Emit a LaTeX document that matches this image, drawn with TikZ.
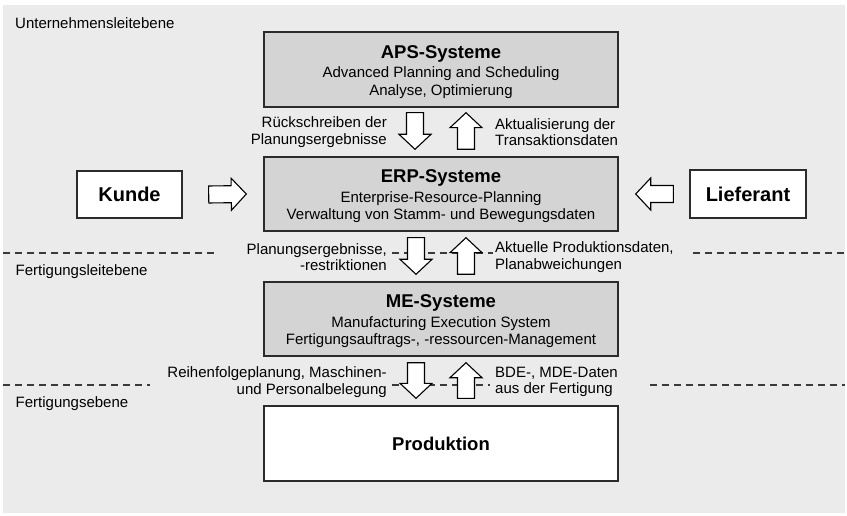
\documentclass[tikz,border=0pt]{standalone}
\usepackage{fontspec}
\setmainfont{Liberation Sans}
\usetikzlibrary{calc}

\definecolor{bgcol}{HTML}{EBEBEB}
\definecolor{syscol}{HTML}{D4D4D4}
\definecolor{linecol}{HTML}{2B2B2B}
\definecolor{dashcol}{HTML}{3A3A3A}

% bold system title; the strut lowers the text block a little inside its box
\newcommand\systitle[1]{{\fontsize{18.5}{21}\selectfont\bfseries\rule{0pt}{18pt}#1}}

% hollow block arrow from coordinate #1 (tail) to coordinate #2 (tip)
\newcommand\blockarrow[2]{%
  \coordinate (ba-h) at ($(#2)!15pt!(#1)$);
  \draw[blockarrowstyle]
    ($(#1)!8.5pt!90:(#2)$) -- ($(ba-h)!8.5pt!-90:(#1)$) -- ($(ba-h)!16pt!-90:(#1)$)
    -- (#2) -- ($(ba-h)!16pt!90:(#1)$) -- ($(ba-h)!8.5pt!90:(#1)$)
    -- ($(#1)!8.5pt!-90:(#2)$) -- cycle;
}

\tikzset{
  sysbox/.style={draw=linecol, fill=syscol, line width=1.4pt, minimum width=354pt,
    minimum height=75pt, inner sep=0pt, align=center, font=\fontsize{15}{17.5}\selectfont},
  extbox/.style={draw=linecol, fill=white, line width=1.4pt, inner sep=0pt,
    font=\fontsize{20}{24}\selectfont\bfseries},
  lbl/.style={inner sep=0pt, font=\fontsize{15}{16.5}\selectfont},
  lvl/.style={inner sep=0pt, anchor=base west, font=\fontsize{15}{17}\selectfont},
  levelline/.style={draw=dashcol, line width=1.1pt, dash pattern=on 7pt off 5pt},
  blockarrowstyle/.style={draw=black, fill=white, line width=1.1pt, line join=miter},
}

\begin{document}
\begin{tikzpicture}[x=1pt, y=1pt]
  \useasboundingbox (0,0) rectangle (847,515);
  \fill[bgcol] (3,2) rectangle (845,510);

  % level separators
  \draw[levelline] (3,262) -- (217,262);
  \draw[levelline] (392,262) -- (493,262);
  \draw[levelline] (693,262) -- (845,262);
  \draw[levelline] (3,130) -- (150,130);
  \draw[levelline] (392,130) -- (490,130);
  \draw[levelline] (650,130) -- (845,130);

  % level names
  \node[lvl] (lvl1) at (15,486.6) {Unternehmensleitebene};
  \node[lvl] (lvl2) at (15.5,239.6) {Fertigungsleitebene};
  \node[lvl] (lvl3) at (15.5,107.6) {Fertigungsebene};

  % systems
  \node[sysbox] (aps) at (441,445.5)
    {\systitle{APS-Systeme}\\[2pt] Advanced Planning and Scheduling\\ Analyse, Optimierung};
  \node[sysbox, minimum height=74pt] (erp) at (441,321)
    {\systitle{ERP-Systeme}\\[2pt] Enterprise-Resource-Planning\\ Verwaltung von Stamm- und Bewegungsdaten};
  \node[sysbox, minimum height=74pt] (me) at (441,196)
    {\systitle{ME-Systeme}\\[2pt] Manufacturing Execution System\\ Fertigungsauftrags-, -ressourcen-Management};
  \node[extbox, minimum width=354pt, minimum height=75pt, font=\fontsize{18.5}{21}\selectfont\bfseries]
    (prod) at (441,71.5) {Produktion};

  \node[extbox, minimum width=105pt, minimum height=47pt] (kunde) at (129.5,320.5) {Kunde};
  \node[extbox, minimum width=116pt, minimum height=48pt] (lief) at (748,321) {Lieferant};

  % arrow end points
  \coordinate (a1s) at ($(aps.south)+(-26pt,-5pt)$);
  \coordinate (a1e) at ($(erp.north)+(-26pt,7pt)$);
  \coordinate (a2s) at ($(erp.north)+(25pt,7pt)$);
  \coordinate (a2e) at ($(aps.south)+(25pt,-5pt)$);
  \coordinate (a3s) at ($(erp.south)+(-25pt,-6pt)$);
  \coordinate (a3e) at ($(me.north)+(-25pt,7pt)$);
  \coordinate (a4s) at ($(me.north)+(25pt,7pt)$);
  \coordinate (a4e) at ($(erp.south)+(25pt,-6pt)$);
  \coordinate (a5s) at ($(me.south)+(-25pt,-6pt)$);
  \coordinate (a5e) at ($(prod.north)+(-25pt,7pt)$);
  \coordinate (a6s) at ($(prod.north)+(25pt,7pt)$);
  \coordinate (a6e) at ($(me.south)+(25pt,-6pt)$);
  \coordinate (a7s) at ($(kunde.east)+(26pt,0pt)$);
  \coordinate (a7e) at ($(erp.west)+(-17pt,0pt)$);
  \coordinate (a8s) at ($(lief.west)+(-16pt,0pt)$);
  \coordinate (a8e) at ($(erp.east)+(17pt,0pt)$);

  \blockarrow{a1s}{a1e}
  \blockarrow{a2s}{a2e}
  \blockarrow{a3s}{a3e}
  \blockarrow{a4s}{a4e}
  \blockarrow{a5s}{a5e}
  \blockarrow{a6s}{a6e}
  \blockarrow{a7s}{a7e}
  \blockarrow{a8s}{a8e}

  % flow labels
  \node[lbl, anchor=east, align=right] (t1) at (387,383) {Rückschreiben der\\Planungsergebnisse};
  \node[lbl, anchor=west, align=left] (t2) at (495,383) {Aktualisierung der\\Transaktionsdaten};
  \node[lbl, anchor=east, align=right] (t3) at (387,258) {Planungsergebnisse,\\-restriktionen};
  \node[lbl, anchor=west, align=left] (t4) at (495,258) {Aktuelle Produktionsdaten,\\Planabweichungen};
  \node[lbl, anchor=east, align=right] (t5) at (387,133) {Reihenfolgeplanung, Maschinen-\\und Personalbelegung};
  \node[lbl, anchor=west, align=left] (t6) at (495,133) {BDE-, MDE-Daten\\aus der Fertigung};
\end{tikzpicture}
\end{document}
